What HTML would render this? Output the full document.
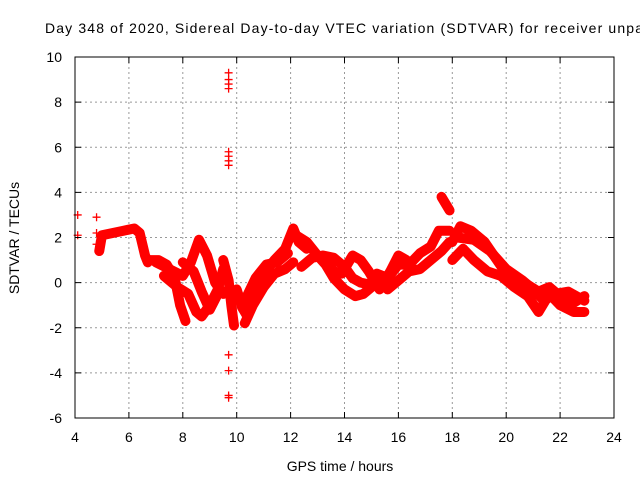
<!DOCTYPE html>
<html><head><meta charset="utf-8"><style>
html,body{margin:0;padding:0;background:#fff;overflow:hidden}
svg{display:block;font-family:"Liberation Sans",sans-serif}
</style></head><body>
<svg id="c" width="640" height="480">
<text x="45" y="33" font-size="14" textLength="598" lengthAdjust="spacing">Day 348 of 2020, Sidereal Day-to-day VTEC variation (SDTVAR) for receiver unpa</text>
<text transform="translate(19,238) rotate(-90)" text-anchor="middle" font-size="14">SDTVAR / TECUs</text>
<text x="340" y="471" text-anchor="middle" font-size="14">GPS time / hours</text>
<g id="grid"></g><g id="marks"></g><g id="axes"></g>
</svg>
<script>
const xTicks=[4,6,8,10,12,14,16,18,20,22,24];
const yTicks=[-6,-4,-2,0,2,4,6,8,10];
const tracks=[
[[4.9,1.4],[5.0,2.1],[5.4,2.2],[5.8,2.3],[6.2,2.4],[6.4,2.2],[6.6,1.2],[6.7,0.9]],
[[6.7,1.0],[7.1,1.0],[7.4,0.8],[7.7,0.2],[7.9,-1.0],[8.1,-1.7]],
[[7.0,0.9],[7.5,0.6],[8.0,0.3],[8.3,0.9],[8.6,1.9],[8.9,1.2],[9.2,0.0],[9.5,-0.5]],
[[7.3,0.3],[7.8,-0.2],[8.2,-0.5],[8.5,-1.3],[8.7,-1.5],[9.0,-1.0],[9.3,-0.3],[9.5,0.6]],
[[8.0,0.9],[8.4,0.5],[8.7,-0.4],[9.0,-1.2],[9.3,-0.5]],
[[9.5,1.0],[9.7,0.1],[9.8,-1.0],[9.9,-1.9]],
[[10.0,-0.3],[10.2,-1.1],[10.4,-1.5],[10.7,-0.5],[11.0,0.4],[11.4,1.0],[11.8,1.5],[12.1,2.4],[12.3,1.8],[12.6,1.5]],
[[9.9,-0.4],[10.3,-0.8],[10.7,0.2],[11.1,0.8],[11.5,0.9],[11.9,1.3]],
[[10.3,-1.8],[10.6,-1.0],[11.0,-0.2],[11.4,0.4],[11.8,0.6],[12.1,0.9]],
[[12.2,2.1],[12.6,1.8],[13.0,1.2],[13.3,0.8],[13.6,0.2],[14.0,-0.3],[14.4,-0.6],[14.7,-0.5],[15.0,-0.2]],
[[12.4,0.7],[12.8,1.1],[13.2,1.2],[13.6,1.1],[14.0,0.7],[14.3,0.2],[14.6,0.0],[15.0,-0.1],[15.4,0.3]],
[[13.3,1.0],[13.6,0.5],[13.9,0.4],[14.3,1.2],[14.6,1.0],[14.9,0.5],[15.3,-0.3],[15.7,0.5],[16.0,1.2],[16.3,1.0]],
[[15.2,0.4],[15.6,0.2],[16.0,0.8],[16.4,0.8],[16.8,1.3],[17.2,1.6],[17.5,2.3],[17.9,2.3]],
[[15.6,-0.3],[16.0,0.1],[16.4,0.5],[16.8,0.6],[17.2,1.0],[17.6,1.4],[17.9,1.8]],
[[17.6,3.8],[17.9,3.2]],
[[18.0,1.8],[18.3,2.5],[18.7,2.3],[19.2,1.8],[19.6,1.1],[20.0,0.4],[20.4,0.1],[20.8,-0.1],[21.2,-0.4],[21.6,-0.2],[22.0,-0.6],[22.5,-0.9],[22.9,-0.6]],
[[18.0,1.0],[18.4,1.5],[18.8,1.0],[19.3,0.5],[19.8,0.3],[20.3,-0.2],[20.8,-0.6],[21.2,-1.3],[21.6,-0.5],[22.0,-1.0],[22.5,-1.3],[22.9,-1.3]],
[[18.2,2.0],[18.8,1.9],[19.4,1.4],[20.0,0.6],[20.6,0.1],[21.0,-0.3],[21.4,-0.8],[21.8,-0.5],[22.3,-0.4],[22.9,-0.8]]
];
const outlierX=[4.1,4.1,4.8,4.8,4.8,9.7,9.7,9.7,9.7,9.7,9.7,9.7,9.7,9.7,9.7,9.7,9.7];
const outlierY=[3.0,2.1,2.9,2.2,1.7,9.3,9.0,8.8,8.6,5.8,5.6,5.4,5.2,-3.2,-3.9,-5.0,-5.1];
const L=75,R=614,T=57,B=418;
const sx=h=>L+(h-4)/20*(R-L);
const sy=v=>B-(v+6)/16*(B-T);
const NS='http://www.w3.org/2000/svg';
function mk(t,a,p){const e=document.createElementNS(NS,t);for(const k in a)e.setAttribute(k,a[k]);p.appendChild(e);return e;}
const grid=document.getElementById('grid'),marks=document.getElementById('marks'),axes=document.getElementById('axes');
xTicks.forEach(t=>{const x=sx(t);
 if(t>4&&t<24){const g=mk('line',{x1:x,x2:x,y1:T,y2:B,stroke:'#999','stroke-dasharray':'2,3'},grid);
 
 }
 mk('line',{x1:x,x2:x,y1:B,y2:B-6,stroke:'#000'},axes);mk('line',{x1:x,x2:x,y1:T,y2:T+6,stroke:'#000'},axes);
 const tx=mk('text',{x:x,y:B+24,'text-anchor':'middle','font-size':'14'},axes);tx.textContent=t;
 
 });
yTicks.forEach(t=>{const y=sy(t);
 if(t>-6&&t<10){const g=mk('line',{x1:L,x2:R,y1:y,y2:y,stroke:'#999','stroke-dasharray':'2,3'},grid);
 
 }
 mk('line',{x1:L,x2:L+6,y1:y,y2:y,stroke:'#000'},axes);mk('line',{x1:R,x2:R-6,y1:y,y2:y,stroke:'#000'},axes);
 const tx=mk('text',{x:L-13,y:y+5,'text-anchor':'end','font-size':'14'},axes);tx.textContent=t;
 
 });
const fr=mk('rect',{x:L,y:T,width:R-L,height:B-T,fill:'none',stroke:'#000'},axes);


function plus(x,y){const p=mk('path',{d:`M${x-4},${y}h8M${x},${y-4}v8`,stroke:'#f00','stroke-width':'1.3',fill:'none'},marks);
 
 }
tracks.forEach(tr=>{
 const pl=mk('polyline',{points:tr.map(p=>sx(p[0])+','+sy(p[1])).join(' '),fill:'none',stroke:'#f00','stroke-width':'10','stroke-linejoin':'round','stroke-linecap':'round'},marks);
 
 
 tr.forEach(p=>plus(sx(p[0]),sy(p[1])));});
outlierX.forEach((h,i)=>plus(sx(h),sy(outlierY[i])));
</script>
</body></html>
